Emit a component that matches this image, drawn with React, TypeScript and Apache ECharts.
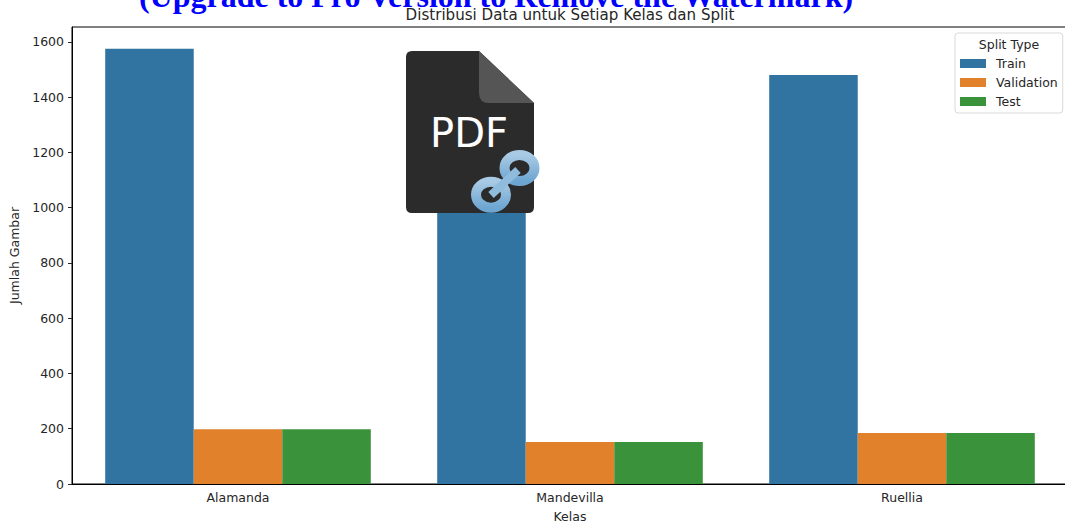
import React, { useEffect, useRef } from "react";
import * as echarts from "echarts";

const categories = ["Alamanda", "Mandevilla", "Ruellia"];
const train = [1575, 1216, 1480];
const validation = [198, 152, 185];
const test = [198, 152, 185];
const yTicks = [0, 200, 400, 600, 800, 1000, 1200, 1400, 1600];
const chartTitle = "Distribusi Data untuk Setiap Kelas dan Split";
const watermark = "(Upgrade to Pro Version to Remove the Watermark)";

const FONT = "DejaVu Sans";
const TEXT = "#262626";
const LABEL = 12.5;

echarts.graphic.registerShape(
  "pdfBody",
  echarts.graphic.extendPath(
    "M412 51 L479 51 L534 103 L534 207 Q534 213 528 213 L412 213 Q406 213 406 207 L406 57 Q406 51 412 51 Z",
    {}
  )
);
echarts.graphic.registerShape(
  "pdfFold",
  echarts.graphic.extendPath("M479 51 L534 103 L489 103 Q479 103 479 93 Z", {})
);

export default function App() {
  const ref = useRef<HTMLDivElement>(null);
  useEffect(() => {
    document.body.style.margin = "0";
    const chart = echarts.init(ref.current!, null, { renderer: "svg" });
    const ringFill = {
      type: "linear", x: 0, y: 0, x2: 0, y2: 1,
      colorStops: [
        { offset: 0, color: "#a9cae4" },
        { offset: 1, color: "#6ea6d2" },
      ],
    };
    chart.setOption({
      animation: false,
      color: ["#3274a1", "#e1812c", "#3a923a"],
      title: {
        text: chartTitle,
        left: 570,
        top: 7,
        textAlign: "center",
        padding: 0,
        textStyle: { fontFamily: FONT, fontSize: 15.1, fontWeight: "normal", color: TEXT, lineHeight: 15 },
      },
      grid: {
        left: 72, top: 27, bottom: 39, right: -3,
        outerBoundsMode: "none",
        show: true, borderColor: "#000", borderWidth: 1, backgroundColor: "transparent",
      },
      legend: {
        left: 955, top: 33,
        orient: "vertical",
        padding: [24, 5, 5, 5],
        itemWidth: 26, itemHeight: 9, itemGap: 6,
        backgroundColor: "#fff",
        borderColor: "#d9d9d9", borderWidth: 1, borderRadius: 3,
        icon: "rect",
        textStyle: { fontFamily: FONT, fontSize: LABEL, color: TEXT, padding: [0, 0, 0, 5] },
      },
      xAxis: {
        type: "category",
        data: categories,
        name: "Kelas",
        nameLocation: "middle",
        nameGap: 26,
        nameTextStyle: { fontFamily: FONT, fontSize: LABEL, color: TEXT },
        axisLine: { lineStyle: { color: "#000", width: 1 } },
        axisTick: { alignWithLabel: true, length: 4, lineStyle: { color: "#262626" } },
        axisLabel: { fontFamily: FONT, fontSize: LABEL, color: TEXT, margin: 7 },
      },
      yAxis: {
        type: "value",
        min: 0,
        max: 1654,
        interval: 200,
        name: "Jumlah Gambar",
        nameLocation: "middle",
        nameGap: 47,
        nameTextStyle: { fontFamily: FONT, fontSize: LABEL, color: TEXT },
        splitLine: { show: false },
        axisLine: { show: true, lineStyle: { color: "#000", width: 1 } },
        axisTick: { show: true, length: 4, customValues: yTicks, lineStyle: { color: "#262626" } },
        axisLabel: {
          fontFamily: FONT, fontSize: LABEL, color: TEXT, margin: 8, customValues: yTicks,
          formatter: (v: number) => String(v),
        },
      },
      series: [
        { name: "Train", type: "bar", data: train, barGap: 0, barCategoryGap: "20%" },
        { name: "Validation", type: "bar", data: validation },
        { name: "Test", type: "bar", data: test },
      ],
      graphic: [
        {
          type: "text", x: 496, y: -20, z: 100, silent: true,
          style: {
            text: watermark, textAlign: "center", textVerticalAlign: "top",
            font: "bold 32px 'Liberation Serif'", fill: "#0000ff",
          },
        },
        { type: "text", x: 1009, y: 38, z: 100, style: { text: "Split Type", textAlign: "center", textVerticalAlign: "top", font: `${LABEL}px '${FONT}'`, fill: TEXT } },
        { type: "pdfBody", z: 100, style: { fill: "#2b2b2b" } },
        { type: "pdfFold", z: 101, style: { fill: "#555555" } },
        {
          type: "text", x: 469, y: 133, z: 102,
          style: { text: "PDF", textAlign: "center", textVerticalAlign: "middle", font: "40px 'DejaVu Sans'", fill: "#ffffff" },
        },
        { type: "ellipse", z: 103, shape: { cx: 519.5, cy: 168, rx: 15, ry: 13 }, style: { fill: "none", stroke: ringFill, lineWidth: 10 } },
        { type: "ellipse", z: 103, shape: { cx: 491, cy: 194.7, rx: 15, ry: 13 }, style: { fill: "none", stroke: ringFill, lineWidth: 10 } },
        { type: "line", z: 104, shape: { x1: 491, y1: 195, x2: 518, y2: 170 }, style: { stroke: "#8fbbdd", lineWidth: 8 } },
      ],
    });
    return () => chart.dispose();
  }, []);
  return <div ref={ref} style={{ width: 1065, height: 523 }} />;
}
